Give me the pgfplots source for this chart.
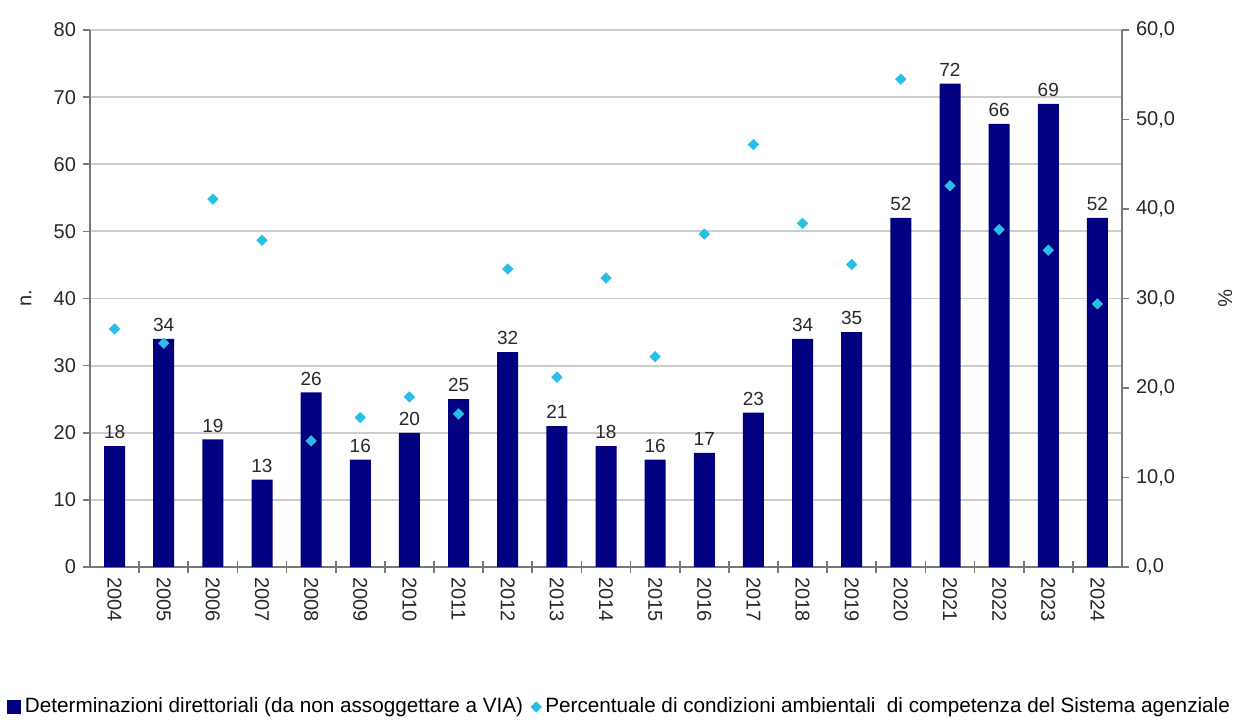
\documentclass[border=0pt]{standalone}
\usepackage{fontspec}
\setmainfont{Liberation Sans}
\usepackage{pgfplots}
\usepackage{pgfplotstable}
\pgfplotsset{compat=1.18}
\definecolor{navybar}{RGB}{0,0,128}
\definecolor{diam}{RGB}{40,190,230}
\definecolor{gridc}{RGB}{205,205,205}
\definecolor{axisc}{RGB}{120,120,120}
\definecolor{txt}{RGB}{40,40,40}

\pgfplotstableread{
x val pct
0 18 26.6
1 34 25.0
2 19 41.1
3 13 36.5
4 26 14.1
5 16 16.7
6 20 19.0
7 25 17.1
8 32 33.3
9 21 21.2
10 18 32.3
11 16 23.5
12 17 37.2
13 23 47.2
14 34 38.4
15 35 33.8
16 52 54.5
17 72 42.6
18 66 37.7
19 69 35.4
20 52 29.4
}\data

\begin{document}
\begin{tikzpicture}[x=1pt,y=1pt]
\useasboundingbox (0,0) rectangle (619.5,362.5);
\begin{axis}[
  at={(45pt,79pt)}, anchor=south west,
  scale only axis, width=516pt, height=268.5pt,
  xmin=-0.5, xmax=20.5, ymin=0, ymax=80,
  clip=false,
  axis x line*=bottom, axis y line*=left,
  axis line style={axisc, line width=0.8pt, -},
  xtick={0,...,20},
  xticklabels={2004,2005,2006,2007,2008,2009,2010,2011,2012,2013,2014,2015,2016,2017,2018,2019,2020,2021,2022,2023,2024},
  major x tick style={draw=none},
  minor xtick={0.5,1.5,...,19.5},
  minor x tick style={axisc, line width=0.8pt},
  minor tick length=6pt,
  xtick align=center,
  ytick={0,10,...,80},
  ytick align=outside,
  major tick length=3.5pt,
  y tick style={axisc, line width=0.8pt},
  ymajorgrids, grid style={gridc, line width=0.9pt},
  tick label style={font=\fontsize{10}{12}\selectfont, color=txt},
  /pgf/number format/assume math mode=true,
  xticklabel style={rotate=-90, anchor=west, xshift=0pt, yshift=0pt},
  ylabel={n.},
  ylabel style={at={(axis description cs:-0.062,0.5)}, anchor=center, font=\fontsize{10}{12}\selectfont, color=txt},
  legend style={draw=none, fill=none, font=\fontsize{10.35}{12}\selectfont, at={(axis description cs:0.514,-0.2607)}, anchor=center, inner sep=0pt, /tikz/every even column/.append style={column sep=2pt}},
  legend columns=2,
]
\addplot[ybar, bar width=10.5pt, fill=navybar, draw=none,
  nodes near coords, nodes near coords style={font=\fontsize{9.5}{11}\selectfont, color=txt},
  legend image code/.code={\fill[navybar] (0pt,-3.5pt) rectangle (7pt,3.5pt);}]
  table[x=x,y=val]{\data};
\addlegendentry{Determinazioni direttoriali (da non assoggettare a VIA)}
\addlegendimage{only marks, mark=square*, mark size=1.8pt, mark options={rotate=45}, color=diam}
\addlegendentry{Percentuale di condizioni ambientali\ \ di competenza del Sistema agenziale}
\end{axis}
\begin{axis}[
  at={(45pt,79pt)}, anchor=south west,
  scale only axis, width=516pt, height=268.5pt,
  xmin=-0.5, xmax=20.5, ymin=0, ymax=60,
  clip=false,
  axis x line=none, axis y line*=right,
  axis line style={axisc, line width=0.8pt, -},
  ytick={0,10,...,60},
  ytick align=outside,
  major tick length=3.5pt,
  y tick style={axisc, line width=0.8pt},
  tick label style={font=\fontsize{10}{12}\selectfont, color=txt},
  /pgf/number format/assume math mode=true,
  yticklabel style={/pgf/number format/.cd, fixed, fixed zerofill, precision=1, use comma},
  ylabel={\%},
  ylabel style={at={(axis description cs:1.1,0.5)}, anchor=center, rotate=180, font=\fontsize{10}{12}\selectfont, color=txt},
]
\addplot[only marks, mark=square*, mark size=1.8pt, mark options={rotate=45}, color=diam] table[x=x,y=pct]{\data};
\end{axis}
\end{tikzpicture}
\end{document}
